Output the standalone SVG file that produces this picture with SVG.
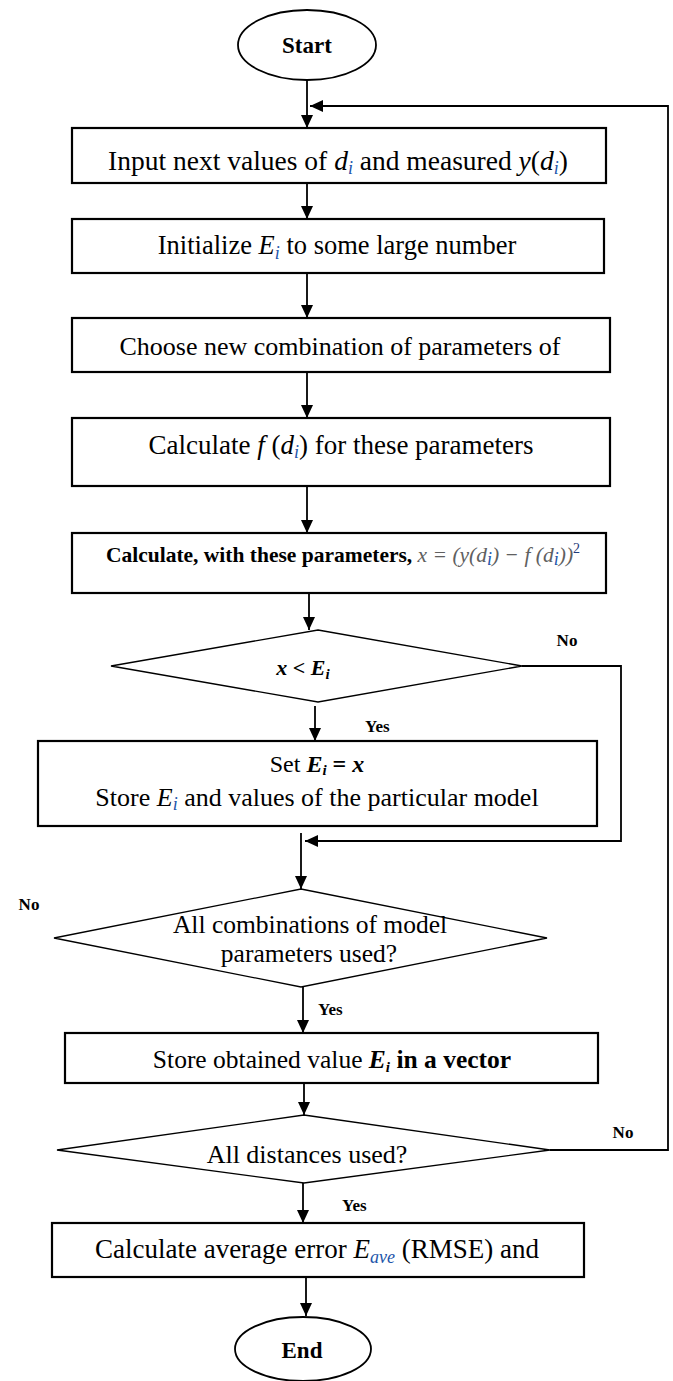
<svg xmlns="http://www.w3.org/2000/svg" width="673" height="1381" viewBox="0 0 673 1381">
<style>
.box{fill:#fff;stroke:#000;stroke-width:2.2}
.dia{fill:#fff;stroke:#000;stroke-width:1.3}
.ell{fill:#fff;stroke:#000;stroke-width:1.8}
.edge{fill:none;stroke:#000;stroke-width:1.8}
.t{font-family:"Liberation Serif","Times New Roman",serif;fill:#000}
.c{text-anchor:middle}
.lbl{font-family:"Liberation Serif","Times New Roman",serif;font-weight:bold;font-size:17px;fill:#000}
.it{font-style:italic}
.bi{font-style:italic;font-weight:bold}
.sub{fill:#2255aa;font-style:italic;font-size:18px}
.subk{font-style:italic;font-weight:bold;font-size:15px}
.math{fill:#606060;font-style:italic;font-weight:normal}
</style>
<defs>
<marker id="arr" markerWidth="13" markerHeight="12" refX="13" refY="6" orient="auto" markerUnits="userSpaceOnUse"><path d="M0,0 L13,6 L0,12 z" fill="#000"/></marker>
</defs>
<rect width="673" height="1381" fill="#fff"/>

<g id="connectors">
<line class="edge" x1="307" y1="81" x2="307" y2="128" marker-end="url(#arr)"/>
<polyline class="edge" points="550,1150 668,1150 668,106 310,106" marker-end="url(#arr)"/>
<line class="edge" x1="307" y1="183" x2="307" y2="219" marker-end="url(#arr)"/>
<line class="edge" x1="307" y1="273" x2="307" y2="318" marker-end="url(#arr)"/>
<line class="edge" x1="307" y1="372" x2="307" y2="418" marker-end="url(#arr)"/>
<line class="edge" x1="307" y1="486" x2="307" y2="533" marker-end="url(#arr)"/>
<line class="edge" x1="309" y1="593" x2="309" y2="630" marker-end="url(#arr)"/>
<line class="edge" x1="315" y1="706" x2="315" y2="741" marker-end="url(#arr)"/>
<polyline class="edge" points="522,666 621,666 621,841 305,841" marker-end="url(#arr)"/>
<line class="edge" x1="301" y1="833" x2="301" y2="889" marker-end="url(#arr)"/>
<line class="edge" x1="303" y1="987" x2="303" y2="1033" marker-end="url(#arr)"/>
<line class="edge" x1="304" y1="1083" x2="304" y2="1115" marker-end="url(#arr)"/>
<line class="edge" x1="303" y1="1183" x2="303" y2="1223" marker-end="url(#arr)"/>
<line class="edge" x1="306" y1="1277" x2="306" y2="1316" marker-end="url(#arr)"/>
<text class="lbl" x="567" y="646" text-anchor="middle">No</text>
<text class="lbl" x="365" y="732">Yes</text>
<text class="lbl" x="29" y="910" text-anchor="middle">No</text>
<text class="lbl" x="318" y="1015">Yes</text>
<text class="lbl" x="623" y="1138" text-anchor="middle">No</text>
<text class="lbl" x="342" y="1211">Yes</text>
</g>

<g id="start">
<ellipse class="ell" cx="307" cy="45" rx="69" ry="35"/>
<text class="t c" x="307" y="53" font-size="23" font-weight="bold">Start</text>
</g>

<g id="input">
<rect class="box" x="72" y="128" width="534" height="55"/>
<text class="t c" x="338" y="170" font-size="27.5">Input next values of <tspan class="it">d</tspan><tspan class="sub" dy="4">i</tspan><tspan dy="-4"> and measured </tspan><tspan class="it">y</tspan><tspan>(</tspan><tspan class="it">d</tspan><tspan class="sub" dy="4">i</tspan><tspan dy="-4">)</tspan></text>
</g>

<g id="init">
<rect class="box" x="72" y="219" width="532" height="54"/>
<text class="t c" x="337" y="254" font-size="26.5">Initialize <tspan class="it">E</tspan><tspan class="sub" dy="5">i</tspan><tspan dy="-5"> to some large number</tspan></text>
</g>

<g id="choose">
<rect class="box" x="72" y="318" width="538" height="54"/>
<text class="t c" x="340" y="355" font-size="26" textLength="441" lengthAdjust="spacingAndGlyphs">Choose new combination of parameters of</text>
</g>

<g id="calcf">
<rect class="box" x="72" y="418" width="538" height="68"/>
<text class="t c" x="341" y="454" font-size="27">Calculate <tspan class="it">f</tspan><tspan> (</tspan><tspan class="it">d</tspan><tspan class="sub" dy="4">i</tspan><tspan dy="-4">) for these parameters</tspan></text>
</g>

<g id="calcx">
<rect class="box" x="72" y="533" width="534" height="60"/>
<text class="t c" x="343" y="562" font-size="21.5" font-weight="bold">Calculate, with these parameters, <tspan class="math">x</tspan><tspan class="math" font-style="normal"> = (</tspan><tspan class="math">y</tspan><tspan class="math" font-style="normal">(</tspan><tspan class="math">d</tspan><tspan class="sub" font-size="14" font-weight="normal" dy="3">i</tspan><tspan class="math" font-style="normal" dy="-3">) − </tspan><tspan class="math">f</tspan><tspan class="math" font-style="normal"> (</tspan><tspan class="math">d</tspan><tspan class="sub" font-size="14" font-weight="normal" dy="3">i</tspan><tspan class="math" font-style="normal" dy="-3">))</tspan><tspan fill="#1f3a7a" font-size="14" font-weight="normal" dy="-9">2</tspan></text>
</g>

<g id="dec1">
<polygon class="dia" points="318,630 522,666 318,702 111,666"/>
<text class="t c" x="303" y="675" font-size="22"><tspan class="bi">x</tspan><tspan font-weight="bold"> &lt; </tspan><tspan class="bi">E</tspan><tspan class="subk" dy="4">i</tspan></text>
</g>

<g id="store">
<rect class="box" x="38" y="741" width="559" height="85"/>
<text class="t c" x="317" y="772" font-size="24">Set <tspan class="bi">E</tspan><tspan class="subk" dy="3">i</tspan><tspan font-weight="bold" dy="-3"> = </tspan><tspan class="bi">x</tspan></text>
<text class="t c" x="317" y="806" font-size="26">Store <tspan class="it">E</tspan><tspan class="sub" dy="4">i</tspan><tspan dy="-4"> and values of the particular model</tspan></text>
</g>

<g id="dec2">
<polygon class="dia" points="301,889 547,938 301,987 54,938"/>
<text class="t c" x="310" y="933" font-size="25.5">All combinations of model</text>
<text class="t c" x="309" y="962" font-size="25.5">parameters used?</text>
</g>

<g id="vector">
<rect class="box" x="65" y="1033" width="533" height="50"/>
<text class="t c" x="332" y="1068" font-size="25.5">Store obtained value <tspan class="bi">E</tspan><tspan class="subk" dy="4">i</tspan><tspan font-weight="bold" dy="-4"> in a vector</tspan></text>
</g>

<g id="dec3">
<polygon class="dia" points="304,1115 550,1150 304,1183 57,1150"/>
<text class="t c" x="307" y="1163" font-size="26">All distances used?</text>
</g>

<g id="average">
<rect class="box" x="52" y="1223" width="532" height="54"/>
<text class="t c" x="317" y="1258" font-size="27">Calculate average error <tspan class="it">E</tspan><tspan class="sub" font-size="20" dy="5">ave</tspan><tspan dy="-5"> (RMSE) and</tspan></text>
</g>

<g id="end">
<ellipse class="ell" cx="303" cy="1349" rx="68" ry="32"/>
<text class="t c" x="302" y="1358" font-size="23" font-weight="bold">End</text>
</g>
</svg>
